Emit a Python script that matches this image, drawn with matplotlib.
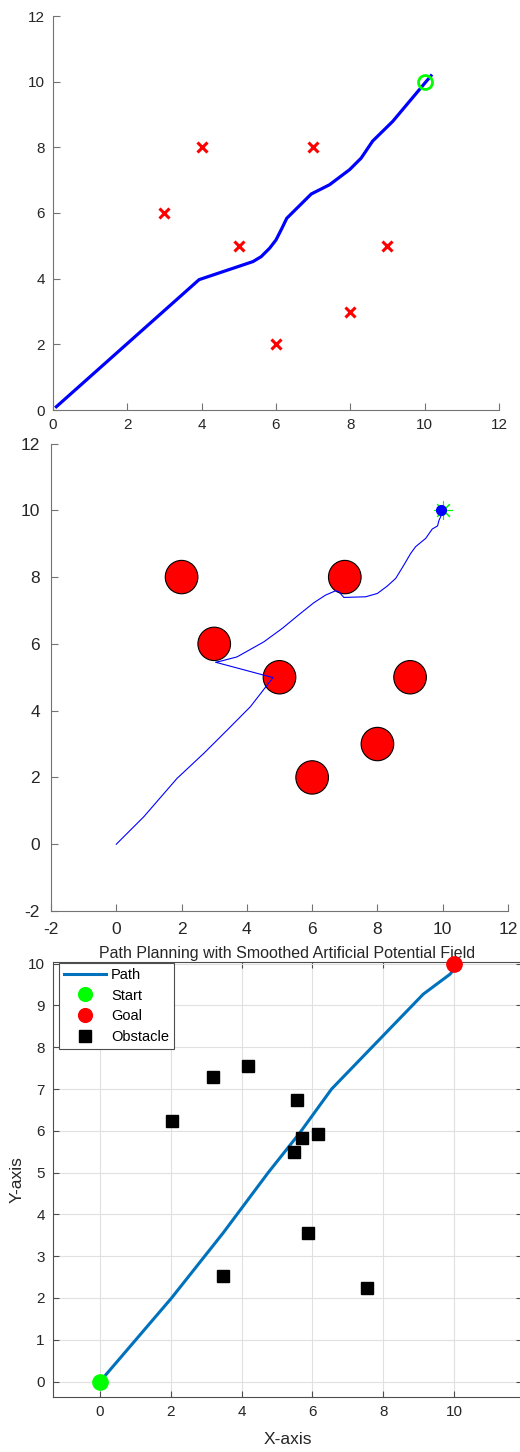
import matplotlib
matplotlib.use("Agg")
import matplotlib.pyplot as plt
from matplotlib.patches import Ellipse
import numpy as np

plt.rcParams['font.family'] = ['Liberation Sans', 'DejaVu Sans']
plt.rcParams['axes.unicode_minus'] = False

# ---- panel 1 : path around x obstacles
obs1_x = [3, 4, 5, 6, 7, 8, 9]
obs1_y = [6, 8, 5, 2, 8, 3, 5]
goal1 = (10, 10)
path1_x = [0.09, 3.93, 5.38, 5.6, 5.83, 6.0, 6.14, 6.29, 6.95, 7.44, 7.98, 8.29, 8.6, 9.14, 10.17]
path1_y = [0.1, 3.97, 4.52, 4.67, 4.93, 5.18, 5.49, 5.84, 6.58, 6.86, 7.32, 7.67, 8.19, 8.79, 10.18]

# ---- panel 2 : potential field path, circular obstacles
obs2_x = [2, 3, 5, 6, 7, 8, 9]
obs2_y = [8, 6, 5, 2, 8, 3, 5]
obs2_r = 0.5
path2_x = [0, 0.84, 1.86, 2.68, 3.4, 4.11, 4.8, 3.04, 3.19, 3.7, 4.52, 5.08, 5.64, 6.05, 6.41,
           6.72, 6.82, 6.97, 7.64, 8.0, 8.3, 8.56, 8.81, 9.02, 9.17, 9.48, 9.68, 9.84, 9.89, 9.94, 9.95]
path2_y = [0, 0.82, 1.97, 2.72, 3.42, 4.12, 4.99, 5.45, 5.48, 5.61, 6.06, 6.46, 6.91, 7.23, 7.46,
           7.59, 7.56, 7.39, 7.41, 7.51, 7.73, 7.96, 8.36, 8.71, 8.91, 9.16, 9.44, 9.53, 9.71, 9.81, 10.0]
end2 = (9.94, 10.02)
goal2 = (10, 10)

# ---- panel 3 : smoothed APF
path3_x = [0, 2.02, 3.48, 4.75, 5.65, 6.54, 9.13, 9.89, 10.2]
path3_y = [0, 2.0, 3.56, 5.0, 5.96, 7.0, 9.27, 9.75, 10.1]
obs3_x = [2.02, 3.2, 4.19, 5.57, 5.70, 6.17, 5.48, 5.88, 3.48, 7.54]
obs3_y = [6.24, 7.29, 7.55, 6.74, 5.84, 5.93, 5.5, 3.56, 2.53, 2.24]
start3 = (0, 0)
goal3 = (10, 10)

W, H = 520, 1452
fig = plt.figure(figsize=(W / 100, H / 100), dpi=100)

def box(l, r, t, b):
    return [l / W, 1 - b / H, (r - l) / W, (b - t) / H]

axcol = '0.45'
txtcol = '#262626'

def matlab_style(ax, size, pad):
    for s in ['top', 'right']:
        ax.spines[s].set_visible(False)
    for s in ['left', 'bottom']:
        ax.spines[s].set_color(axcol)
    ax.tick_params(direction='in', length=5, color=axcol, labelcolor=txtcol,
                   labelsize=size, pad=pad)

# panel 1
ax1 = fig.add_axes(box(53, 499, 16, 410))
ax1.plot(path1_x, path1_y, color=(0, 0, 1), lw=2.3)
ax1.plot(obs1_x, obs1_y, 'x', color=(1, 0, 0), ms=7, mew=2.2, ls='none')
ax1.plot(*goal1, 'o', mfc='none', mec=(0, 1, 0), ms=10, mew=2)
ax1.set_xlim(0, 12)
ax1.set_ylim(0, 12)
ax1.set_xticks(range(0, 13, 2))
ax1.set_yticks(range(0, 13, 2))
matlab_style(ax1, 11, 6)

# panel 2
ax2 = fig.add_axes(box(51, 508, 443.5, 911))
for cx, cy in zip(obs2_x, obs2_y):
    ax2.add_patch(Ellipse((cx, cy), 2 * obs2_r, 2 * obs2_r, fc=(1, 0, 0), ec='black', lw=0.8))
ax2.plot(path2_x, path2_y, color=(0, 0, 1), lw=0.8)
ax2.plot(*goal2, marker=(8, 2, 0), color=(0, 1, 0), ms=13, mew=0.8, ls='none')
ax2.plot(*end2, 'o', color=(0, 0, 1), ms=7)
ax2.set_xlim(-2, 12)
ax2.set_ylim(-2, 12)
ax2.set_xticks(range(-2, 13, 2))
ax2.set_yticks(range(-2, 13, 2))
matlab_style(ax2, 12.5, 8)

# panel 3
ax3 = fig.add_axes(box(53, 522, 962, 1397))
ax3.grid(True, color='0.88', lw=0.8)
ax3.set_axisbelow(True)
ax3.plot(path3_x, path3_y, color='#0072BD', lw=2.2, label='Path')
ax3.plot(*start3, 'o', color=(0, 1, 0), ms=11, ls='none', label='Start', clip_on=False, zorder=5)
ax3.plot(*goal3, 'o', color=(1, 0, 0), ms=11, ls='none', label='Goal', clip_on=False, zorder=5)
ax3.plot(obs3_x, obs3_y, 's', color='black', ms=9, ls='none', label='Obstacle')
ax3.set_xlim(-1.33, 11.92)
ax3.set_ylim(-0.37, 10.04)
ax3.set_xticks(range(0, 11, 2))
ax3.set_yticks(range(0, 11))
for s in ax3.spines.values():
    s.set_color('0.3')
ax3.tick_params(direction='in', length=4, color='0.3', labelcolor=txtcol,
                labelsize=11, pad=6, top=True, right=True)
ax3.set_xlabel('X-axis', fontsize=12.5, color=txtcol)
ax3.set_ylabel('Y-axis', fontsize=12.5, color=txtcol)
ax3.xaxis.set_label_coords(0.5, -0.08)
ax3.yaxis.set_label_coords(-0.06, 0.5)
ax3.set_title('Path Planning with Smoothed Artificial Potential Field', fontsize=11.5,
              color=txtcol, pad=3)
leg = ax3.legend(loc='upper left', bbox_to_anchor=(0.013, 0.998), borderaxespad=0,
                 fontsize=10.5, fancybox=False, framealpha=1, edgecolor='0.3',
                 handlelength=2.9, handletextpad=0.3, labelspacing=0.45, borderpad=0.35,
                 markerscale=0.9)
leg.get_frame().set_linewidth(0.8)

fig.savefig('out.png', dpi=100)
